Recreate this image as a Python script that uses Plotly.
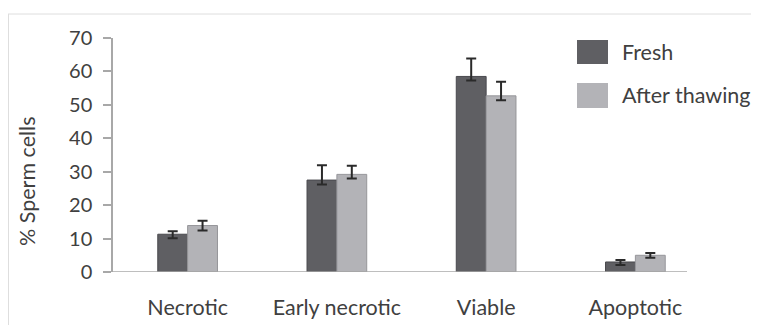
import plotly.graph_objects as go

categories = ["Necrotic", "Early necrotic", "Viable", "Apoptotic"]
series_names = ["Fresh", "After thawing"]
fresh = [11.3, 27.5, 58.5, 3.0]
fresh_err_plus = [0.9, 4.4, 5.4, 0.6]
fresh_err_minus = [1.2, 1.3, 1.2, 0.9]
thaw = [13.9, 29.2, 52.7, 5.0]
thaw_err_plus = [1.4, 2.6, 4.2, 0.7]
thaw_err_minus = [1.5, 1.2, 1.3, 0.7]
y_ticks = [0, 10, 20, 30, 40, 50, 60, 70]

OFF = 8  # page body margin
SW, SH = 759, 325  # screen size
W, H = SW - OFF, SH - OFF
# plot area in screen coordinates
X0, X1, Y0, Y1 = 113, 710, 38, 272
L, R, T, B = X0 - OFF, SW - X1, Y0 - OFF, SH - Y1
FONT = "Lato"
TXT = "#404040"
DARK = "#5f5f63"
LIGHT = "#b3b3b7"

def px(x):
    return (x - X0) / (X1 - X0)

def py(y):
    return (Y1 - y) / (Y1 - Y0)

fig = go.Figure()
fig.add_trace(go.Bar(
    x=categories, y=fresh, name=series_names[0],
    marker=dict(color=DARK, line=dict(color="#4a4a4e", width=1)),
    error_y=dict(type="data", symmetric=False, array=fresh_err_plus,
                 arrayminus=fresh_err_minus, color="#2a2a2a", thickness=2, width=5),
    showlegend=False,
))
fig.add_trace(go.Bar(
    x=categories, y=thaw, name=series_names[1],
    marker=dict(color=LIGHT, line=dict(color="#96969a", width=1)),
    error_y=dict(type="data", symmetric=False, array=thaw_err_plus,
                 arrayminus=thaw_err_minus, color="#2a2a2a", thickness=2, width=5),
    showlegend=False,
))

shapes = [
    dict(type="line", xref="paper", yref="paper", x0=px(8), x1=px(SW + 5), y0=py(14), y1=py(14),
         line=dict(color="#dedede", width=1)),
    dict(type="line", xref="paper", yref="paper", x0=px(8.5), x1=px(8.5), y0=py(14), y1=py(SH + 5),
         line=dict(color="#dedede", width=1)),
    dict(type="line", xref="paper", yref="y", x0=px(105), x1=px(687), y0=0, y1=0,
         line=dict(color="#a8a8a8", width=1.5)),
    dict(type="rect", xref="paper", yref="paper", x0=px(577), x1=px(608), y0=py(64), y1=py(40),
         fillcolor=DARK, line=dict(width=0)),
    dict(type="rect", xref="paper", yref="paper", x0=px(577), x1=px(608), y0=py(108), y1=py(83),
         fillcolor=LIGHT, line=dict(width=0)),
]

annotations = [
    dict(text=series_names[0], xref="paper", yref="paper", x=px(620), y=py(52),
         xanchor="left", yanchor="middle", showarrow=False, font=dict(family=FONT, size=21.5, color=TXT)),
    dict(text=series_names[1], xref="paper", yref="paper", x=px(620), y=py(95),
         xanchor="left", yanchor="middle", showarrow=False, font=dict(family=FONT, size=21.5, color=TXT)),
    dict(text="% Sperm cells", xref="paper", yref="paper", x=px(27), y=py(182),
         xanchor="center", yanchor="middle", textangle=-90, showarrow=False,
         font=dict(family=FONT, size=21.5, color=TXT)),
]

fig.update_layout(
    width=W, height=H,
    margin=dict(l=L, r=R, t=T, b=B, pad=0, autoexpand=False),
    paper_bgcolor="white", plot_bgcolor="white",
    barmode="group", bargap=0.6, bargroupgap=0,
    font=dict(family=FONT, size=21.5, color=TXT),
    shapes=shapes, annotations=annotations,
    showlegend=False,
)
fig.update_xaxes(range=[-0.5, 3.5], showline=False, showgrid=False, zeroline=False, automargin=False,
                 ticks="", ticklabelstandoff=20, tickfont=dict(family=FONT, size=21.5, color=TXT))
fig.update_yaxes(range=[0, 70], tickvals=y_ticks, showline=True, linecolor="#a8a8a8", linewidth=1.5,
                 ticks="outside", ticklen=8, tickcolor="#a8a8a8", tickwidth=1.5, automargin=False,
                 showgrid=False, zeroline=False, ticklabelstandoff=7,
                 tickfont=dict(family=FONT, size=20, color=TXT))

fig.write_html("out.html")
